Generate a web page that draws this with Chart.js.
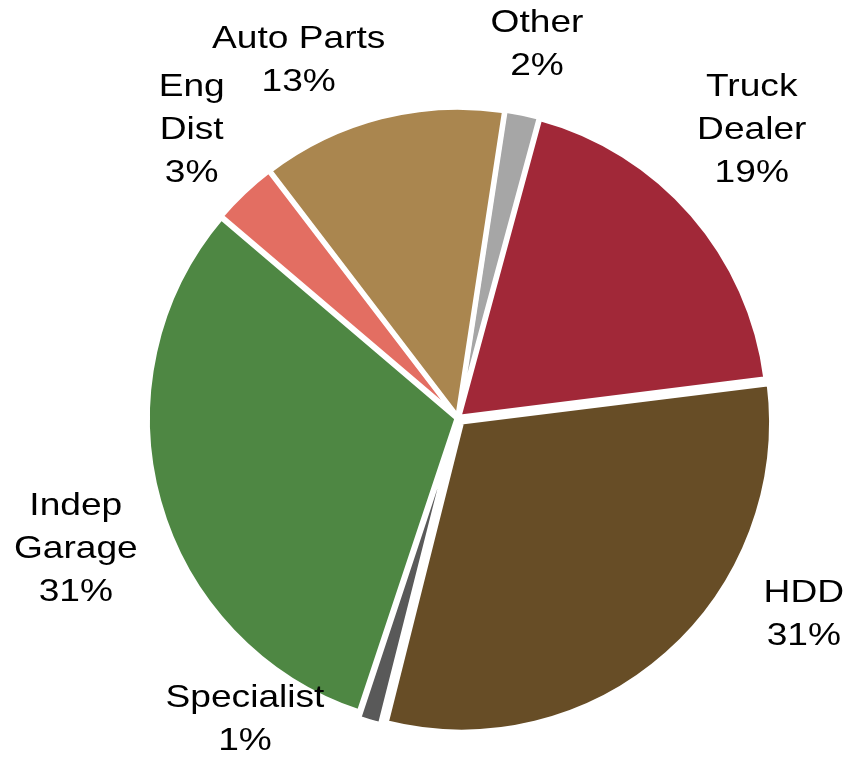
<!DOCTYPE html>
<html>
<head>
<meta charset="utf-8">
<script src="https://cdn.jsdelivr.net/npm/chart.js@4"></script>
<style>
  html, body { margin: 0; padding: 0; background: #fff; }
  #wrap { width: 848px; height: 758px; }
</style>
</head>
<body>
<div id="wrap"><canvas id="pieChart"></canvas></div>
<script>
const categorias = [['Other'], ['Truck', 'Dealer'], ['HDD'], ['Specialist'], ['Indep', 'Garage'], ['Eng', 'Dist'], ['Auto Parts']];
const porcentajes = [1.8, 18.8, 30.9, 1.2, 31.1, 3.4, 12.8];
const colores = ['#A6A6A6', '#A12838', '#674D26', '#595959', '#4E8743', '#E36E62', '#AA864F'];

// Desplazamiento de cada etiqueta respecto al ángulo medio del sector (grados) y distancia al centro
const ajusteEtiquetas = [
    { giro: 0, dist: 382 },
    { giro: -3.4, dist: 411 },
    { giro: -18.8, dist: 398 },
    { giro: 19, dist: 369 },
    { giro: -3.3, dist: 404 },
    { giro: 0.7, dist: 392 },
    { giro: -9.7, dist: 391 }
];

// Plugin para dibujar las etiquetas fuera del pastel
const etiquetasExternas = {
    id: 'etiquetasExternas',
    afterDatasetsDraw(chart) {
        const ctx = chart.ctx;
        const arcos = chart.getDatasetMeta(0).data;
        ctx.save();
        ctx.fillStyle = '#000';
        ctx.font = '32px "Liberation Sans", Arial, sans-serif';
        ctx.textAlign = 'center';
        ctx.textBaseline = 'middle';
        arcos.forEach((arco, i) => {
            const ajuste = ajusteEtiquetas[i];
            const medio = (arco.startAngle + arco.endAngle) / 2 + ajuste.giro * Math.PI / 180;
            const x = arco.x + Math.cos(medio) * ajuste.dist;
            const y = arco.y + Math.sin(medio) * ajuste.dist;
            const lineas = categorias[i].concat([Math.round(porcentajes[i]) + '%']);
            const alto = 43;
            const inicio = y - (lineas.length - 1) * alto / 2;
            lineas.forEach((linea, j) => {
                ctx.save();
                ctx.translate(x, inicio + j * alto);
                ctx.scale(1.16, 1);
                ctx.fillText(linea, 0, 0);
                ctx.restore();
            });
        });
        ctx.restore();
    }
};

const ctx = document.getElementById('pieChart').getContext('2d');
const grafico = new Chart(ctx, {
    type: 'pie',
    data: {
        labels: categorias,
        datasets: [{
            data: porcentajes,
            backgroundColor: colores,
            borderColor: '#ffffff',
            borderWidth: 5,
            offset: [4, 4, 22, 14, 4, 4, 4]
        }]
    },
    options: {
        responsive: true,
        maintainAspectRatio: false,
        animation: false,
        events: [],
        rotation: 8.7,
        radius: 309.5,
        layout: {
            padding: { left: 68, right: 0, top: 78, bottom: 0 }
        },
        plugins: {
            legend: { display: false },
            tooltip: { enabled: false }
        }
    },
    plugins: [etiquetasExternas]
});
</script>
</body>
</html>
